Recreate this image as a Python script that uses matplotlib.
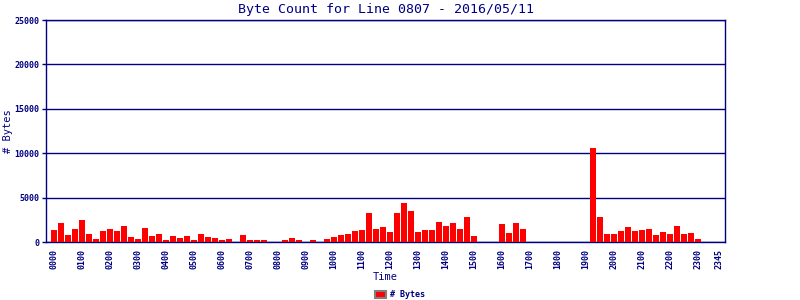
import numpy as np
import matplotlib.pyplot as plt

# 15-minute slots, 0000 .. 2345
times = ["%02d%02d" % (h, m) for h in range(24) for m in (0, 15, 30, 45)]
byte_counts = [
    1400, 2200, 800, 1500, 2500, 900, 350, 1250,
    1500, 1250, 1850, 550, 350, 1600, 700, 900,
    250, 700, 450, 700, 250, 900, 550, 450,
    250, 350, 0, 800, 250, 250, 250, 0,
    0, 250, 450, 250, 0, 250, 0, 350,
    550, 800, 900, 1250, 1350, 3300, 1500, 1700,
    1150, 3300, 4350, 3550, 1150, 1350, 1350, 2300,
    1850, 2200, 1500, 2850, 700, 0, 0, 0,
    2050, 1050, 2200, 1500, 0, 0, 0, 0,
    0, 0, 0, 0, 0, 10600, 2850, 900,
    900, 1250, 1700, 1250, 1350, 1500, 800, 1150,
    900, 1850, 900, 1050, 350, 0, 0, 0,
]
tick_labels = [t for t in times if t.endswith("00")] + ["2345"]

navy = "#000080"
mono = "DejaVu Sans Mono"

fig = plt.figure(figsize=(8, 3), dpi=100)
ax = fig.add_axes([0.0575, 0.193, 0.849, 0.74])

x = np.arange(len(times))
ax.bar(x, byte_counts, width=0.86, color="#ff0000", label="# Bytes", zorder=3)

ax.set_xlim(-1.14, 95.86)
ax.set_ylim(0, 25000)
ax.set_yticks(range(0, 25001, 5000))
ax.set_yticklabels([str(v) for v in range(0, 25001, 5000)],
                   fontsize=6, family=mono, color=navy, fontweight="bold")
ax.set_xticks([times.index(t) for t in tick_labels])
ax.set_xticklabels(tick_labels, rotation=90, fontsize=6, family=mono,
                   color=navy, fontweight="bold")
ax.tick_params(axis="x", length=0, pad=5)
ax.tick_params(axis="y", length=3, width=1, color=navy, pad=2)

ax.grid(axis="y", color=navy, linewidth=1.0, zorder=1)
for s in ax.spines.values():
    s.set_color(navy)
    s.set_linewidth(1.0)

ax.set_title("Byte Count for Line 0807 - 2016/05/11", fontsize=9.5,
             family=mono, color=navy, pad=5)
ax.set_xlabel("Time", fontsize=7.5, family=mono, color=navy)
ax.set_ylabel("# Bytes", fontsize=7.5, family=mono, color=navy)
ax.xaxis.set_label_coords(0.499, -0.135)
ax.yaxis.set_label_coords(-0.048, 0.5)

leg = fig.legend(loc="center", bbox_to_anchor=(0.5, 0.017), frameon=False,
                 prop={"family": mono, "size": 6, "weight": "bold"},
                 handlelength=1.3, handleheight=0.9, handletextpad=0.4,
                 borderpad=0, borderaxespad=0)
for t in leg.get_texts():
    t.set_color(navy)
leg.get_patches()[0].set_edgecolor("#808080")
leg.get_patches()[0].set_linewidth(1.5)

fig.savefig("out.png", dpi=100)
